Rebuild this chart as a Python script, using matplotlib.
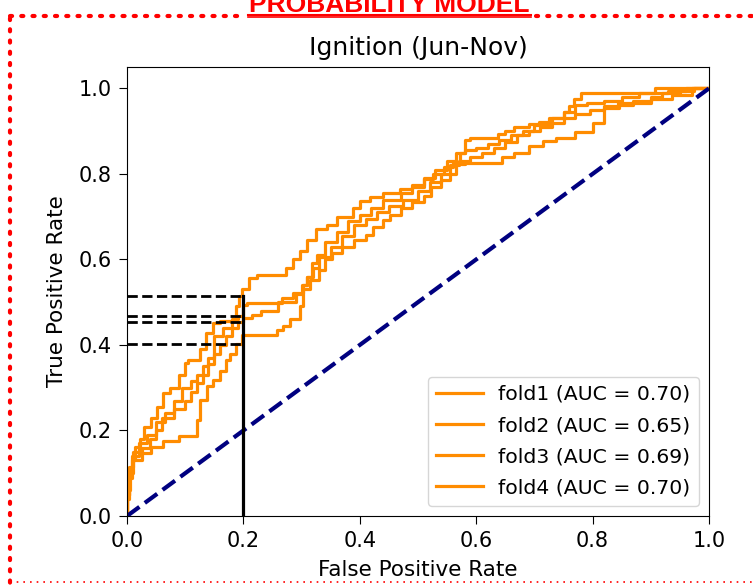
import matplotlib.pyplot as plt
from matplotlib.lines import Line2D

# ROC points per fold
fpr1 = [0, 0.004, 0.008, 0.014, 0.022, 0.03, 0.042, 0.052, 0.062, 0.074, 0.09, 0.1, 0.105, 0.125,
        0.135, 0.148, 0.16, 0.188, 0.192, 0.197, 0.21, 0.223, 0.274, 0.285, 0.297, 0.31, 0.325,
        0.343, 0.36, 0.375, 0.389, 0.40, 0.418, 0.44, 0.469, 0.49, 0.51, 0.526, 0.545, 0.56,
        0.572, 0.58, 0.589, 0.637, 0.65, 0.665, 0.69, 0.708, 0.73, 0.751, 0.76, 0.768, 0.78,
        0.786, 0.907, 0.91, 1.0]
tpr1 = [0, 0.05, 0.10, 0.131, 0.162, 0.18, 0.209, 0.23, 0.256, 0.288, 0.30, 0.33, 0.358, 0.365,
        0.39, 0.428, 0.452, 0.457, 0.49, 0.514, 0.53, 0.557, 0.564, 0.58, 0.60, 0.62, 0.645,
        0.67, 0.68, 0.70, 0.70, 0.72, 0.736, 0.745, 0.756, 0.765, 0.775, 0.787, 0.80, 0.815,
        0.826, 0.85, 0.88, 0.885, 0.893, 0.90, 0.91, 0.916, 0.922, 0.93, 0.945, 0.958, 0.975,
        0.99, 0.99, 1.0, 1.0]

fpr2 = [0, 0.004, 0.011, 0.025, 0.042, 0.062, 0.09, 0.12, 0.125, 0.137, 0.148, 0.16, 0.17, 0.177,
        0.188, 0.197, 0.203, 0.257, 0.268, 0.28, 0.297, 0.303, 0.314, 0.33, 0.34, 0.352, 0.37,
        0.39, 0.41, 0.423, 0.44, 0.452, 0.47, 0.49, 0.51, 0.523, 0.54, 0.555, 0.566, 0.58,
        0.645, 0.665, 0.69, 0.715, 0.737, 0.77, 0.80, 0.82, 0.844, 0.90, 0.936, 0.97, 1.0]
tpr2 = [0, 0.05, 0.115, 0.13, 0.147, 0.162, 0.175, 0.186, 0.225, 0.272, 0.303, 0.318, 0.34, 0.365,
        0.38, 0.403, 0.424, 0.424, 0.435, 0.445, 0.46, 0.49, 0.53, 0.553, 0.575, 0.60, 0.615,
        0.63, 0.645, 0.658, 0.675, 0.693, 0.705, 0.72, 0.735, 0.748, 0.77, 0.785, 0.80, 0.822,
        0.826, 0.84, 0.85, 0.865, 0.877, 0.885, 0.897, 0.92, 0.958, 0.965, 0.974, 0.985, 1.0]

fpr3 = [0, 0.004, 0.008, 0.02, 0.035, 0.05, 0.065, 0.08, 0.095, 0.11, 0.12, 0.13, 0.14, 0.15,
        0.165, 0.18, 0.19, 0.2, 0.206, 0.235, 0.266, 0.285, 0.303, 0.31, 0.318, 0.326, 0.34,
        0.36, 0.38, 0.40, 0.42, 0.44, 0.47, 0.49, 0.51, 0.53, 0.55, 0.565, 0.58, 0.60, 0.62,
        0.64, 0.66, 0.68, 0.70, 0.725, 0.75, 0.77, 0.79, 0.82, 0.85, 0.88, 0.93, 0.96, 1.0]
tpr3 = [0, 0.04, 0.09, 0.14, 0.17, 0.19, 0.22, 0.24, 0.27, 0.30, 0.315, 0.33, 0.35, 0.37,
        0.42, 0.44, 0.46, 0.467, 0.494, 0.497, 0.499, 0.51, 0.522, 0.54, 0.56, 0.592, 0.61,
        0.64, 0.665, 0.69, 0.705, 0.72, 0.74, 0.755, 0.77, 0.79, 0.81, 0.83, 0.85, 0.855, 0.86,
        0.87, 0.88, 0.89, 0.90, 0.915, 0.93, 0.945, 0.96, 0.965, 0.97, 0.98, 0.99, 0.995, 1.0]

fpr4 = [0, 0.005, 0.01, 0.025, 0.04, 0.05, 0.06, 0.08, 0.10, 0.11, 0.12, 0.13, 0.14, 0.15, 0.16,
        0.17, 0.18, 0.19, 0.20, 0.215, 0.23, 0.26, 0.29, 0.30, 0.31, 0.32, 0.33, 0.35, 0.37,
        0.39, 0.41, 0.43, 0.45, 0.475, 0.50, 0.52, 0.54, 0.555, 0.57, 0.59, 0.61, 0.63, 0.65,
        0.67, 0.69, 0.71, 0.73, 0.75, 0.77, 0.795, 0.82, 0.845, 0.87, 0.90, 0.92, 0.95, 0.975, 1.0]
tpr4 = [0, 0.06, 0.10, 0.15, 0.16, 0.18, 0.20, 0.23, 0.25, 0.27, 0.29, 0.31, 0.33, 0.355, 0.38,
        0.40, 0.42, 0.44, 0.453, 0.462, 0.47, 0.48, 0.50, 0.52, 0.54, 0.56, 0.58, 0.605, 0.63,
        0.655, 0.68, 0.695, 0.71, 0.725, 0.74, 0.76, 0.78, 0.80, 0.82, 0.83, 0.84, 0.85, 0.86,
        0.875, 0.89, 0.90, 0.91, 0.92, 0.93, 0.94, 0.95, 0.955, 0.96, 0.97, 0.98, 0.99, 0.995, 1.0]

fold_names = ["fold1", "fold2", "fold3", "fold4"]
fold_auc = [0.70, 0.65, 0.69, 0.70]

# TPR at FPR = 0.2 for each fold (dashed markers)
fpr_cut = 0.2
tpr_at_cut = [0.515, 0.467, 0.453, 0.403]

fig = plt.figure(figsize=(7.53, 5.85), dpi=100)
ax = fig.add_axes([127 / 753, 69 / 585, 582 / 753, 449 / 585])

curves = [(fpr1, tpr1), (fpr2, tpr2), (fpr3, tpr3), (fpr4, tpr4)]
for (f, t), name, auc in zip(curves, fold_names, fold_auc):
    ax.plot(f, t, color="darkorange", lw=2.3, drawstyle="steps-pre",
            label=f"{name} (AUC = {auc:.2f})")

ax.plot([0, 1], [0, 1], color="navy", lw=3, linestyle="--")

for t in tpr_at_cut:
    ax.plot([0, fpr_cut], [t, t], color="black", lw=2, linestyle="--")
ax.plot([fpr_cut, fpr_cut], [0, max(tpr_at_cut)], color="black", lw=2.3)

ax.set_xlim(0.0, 1.0)
ax.set_ylim(0.0, 1.05)
ax.tick_params(labelsize=15, length=6, pad=5)
ax.set_xlabel("False Positive Rate", fontsize=15.5, labelpad=6)
ax.set_ylabel("True Positive Rate", fontsize=15.5, labelpad=8)
ax.set_title("Ignition (Jun-Nov)", fontsize=18, pad=9)
ax.legend(loc="lower right", fontsize=14.7, labelspacing=0.6, handlelength=2.3,
          handletextpad=0.75)

# slide frame: red dotted border and cut-off heading
fig.add_artist(Line2D([10 / 753, 246 / 753], [1 - 16 / 585] * 2, color="red", lw=3,
                      linestyle=(0, (0.5, 2.2)), dash_capstyle="round"))
fig.add_artist(Line2D([536 / 753, 1.0], [1 - 16 / 585] * 2, color="red", lw=3,
                      linestyle=(0, (0.5, 2.2)), dash_capstyle="round"))
fig.add_artist(Line2D([10 / 753, 10 / 753], [1 - 18 / 585, 0.0], color="red", lw=3,
                      linestyle=(0, (0.5, 2.2)), dash_capstyle="round"))
fig.add_artist(Line2D([10 / 753, 1.0], [3 / 585] * 2, color="red", lw=1.2,
                      linestyle=(0, (1, 3))))
fig.text(389 / 753, 1 - 12 / 585, "PROBABILITY MODEL", color="red", fontsize=19,
         fontweight="bold", family="Liberation Sans", ha="center", va="baseline")
fig.add_artist(Line2D([248 / 753, 531 / 753], [1 - 14.5 / 585] * 2, color="red", lw=1.5))
fig.add_artist(Line2D([248 / 753, 531 / 753], [1 - 17 / 585] * 2, color="red", lw=1.2))

fig.savefig("out.png", dpi=100)
